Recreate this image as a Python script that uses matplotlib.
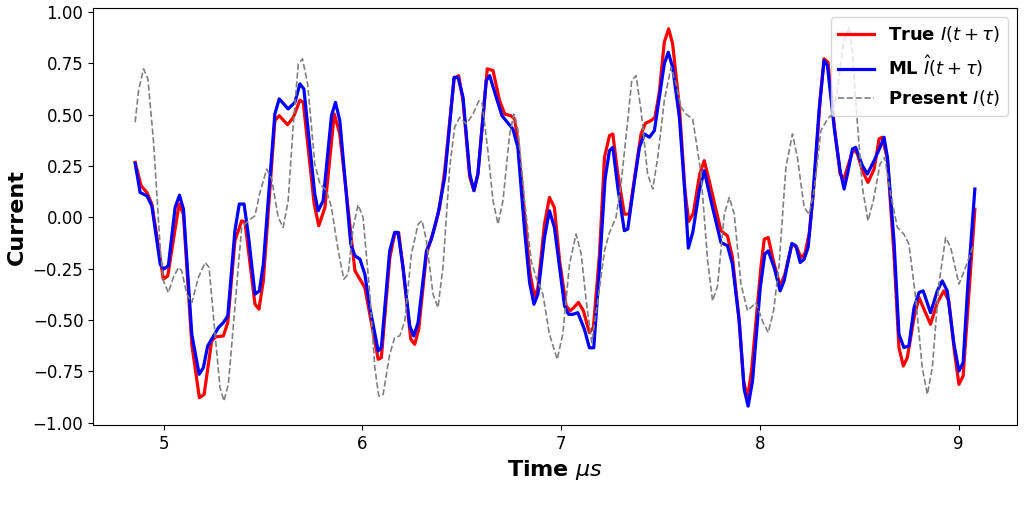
import matplotlib
matplotlib.use("Agg")
import matplotlib.pyplot as plt
import numpy as np

# values (time in us, current)
t_true = [4.856, 4.886, 4.915, 4.940, 4.998, 5.020, 5.077, 5.099, 5.141, 5.179, 5.203, 5.241, 5.261, 5.300,
          5.322, 5.358, 5.392, 5.409, 5.459, 5.479, 5.501, 5.559, 5.581, 5.623, 5.652, 5.685, 5.702, 5.757,
          5.780, 5.811, 5.858, 5.886, 5.962, 5.987, 6.012, 6.079, 6.095, 6.137, 6.162, 6.182, 6.204, 6.243,
          6.263, 6.283, 6.322, 6.363, 6.388, 6.414, 6.461, 6.484, 6.506, 6.540, 6.561, 6.581, 6.628, 6.657,
          6.690, 6.716, 6.746, 6.766, 6.782, 6.816, 6.841, 6.866, 6.883, 6.916, 6.941, 6.966, 6.992, 7.025,
          7.045, 7.064, 7.087, 7.112, 7.142, 7.162, 7.193, 7.218, 7.243, 7.260, 7.285, 7.318, 7.343, 7.377,
          7.402, 7.424, 7.452, 7.472, 7.494, 7.519, 7.541, 7.561, 7.595, 7.623, 7.642, 7.665, 7.697, 7.720,
          7.745, 7.804, 7.837, 7.862, 7.896, 7.918, 7.938, 7.958, 8.005, 8.022, 8.042, 8.072, 8.102, 8.126,
          8.161, 8.186, 8.206, 8.226, 8.248, 8.273, 8.303, 8.323, 8.343, 8.377, 8.404, 8.424, 8.441, 8.471,
          8.491, 8.516, 8.544, 8.575, 8.600, 8.616, 8.642, 8.675, 8.700, 8.722, 8.742, 8.776, 8.801, 8.826,
          8.859, 8.893, 8.926, 8.951, 8.980, 9.002, 9.023, 9.052, 9.082]
i_true = [0.268, 0.154, 0.121, 0.065, -0.301, -0.285, 0.065, 0.016, -0.618, -0.878, -0.862, -0.602, -0.582,
          -0.577, -0.512, -0.114, -0.017, -0.025, -0.423, -0.447, -0.309, 0.471, 0.495, 0.451, 0.487, 0.571,
          0.560, 0.065, -0.041, 0.048, 0.503, 0.406, -0.260, -0.301, -0.342, -0.691, -0.683, -0.200, -0.080,
          -0.074, -0.244, -0.593, -0.618, -0.545, -0.179, -0.049, 0.048, 0.227, 0.674, 0.690, 0.568, 0.195,
          0.130, 0.211, 0.723, 0.715, 0.568, 0.503, 0.495, 0.479, 0.373, 0.016, -0.260, -0.390, -0.342,
          -0.033, 0.097, 0.048, -0.211, -0.431, -0.455, -0.439, -0.414, -0.455, -0.561, -0.537, -0.179,
          0.292, 0.398, 0.406, 0.211, 0.016, 0.016, 0.243, 0.406, 0.458, 0.471, 0.487, 0.609, 0.853, 0.918,
          0.845, 0.536, 0.130, -0.020, 0.020, 0.210, 0.276, 0.178, -0.065, -0.090, -0.195, -0.504, -0.797,
          -0.878, -0.748, -0.244, -0.106, -0.098, -0.228, -0.334, -0.277, -0.130, -0.146, -0.195, -0.179,
          -0.081, 0.162, 0.569, 0.772, 0.755, 0.422, 0.211, 0.187, 0.244, 0.333, 0.309, 0.227, 0.170, 0.235,
          0.382, 0.390, 0.284, -0.179, -0.634, -0.724, -0.683, -0.488, -0.390, -0.447, -0.520, -0.415,
          -0.358, -0.407, -0.659, -0.813, -0.772, -0.374, 0.040]

t_ml = [4.856, 4.881, 4.915, 4.940, 4.982, 4.998, 5.023, 5.057, 5.079, 5.099, 5.141, 5.178, 5.199, 5.221,
        5.275, 5.300, 5.322, 5.358, 5.380, 5.404, 5.425, 5.459, 5.481, 5.501, 5.559, 5.581, 5.626, 5.660,
        5.685, 5.705, 5.760, 5.777, 5.802, 5.844, 5.864, 5.886, 5.941, 5.962, 5.987, 6.012, 6.037, 6.079,
        6.095, 6.137, 6.162, 6.179, 6.204, 6.238, 6.258, 6.280, 6.322, 6.347, 6.380, 6.414, 6.461, 6.481,
        6.506, 6.540, 6.561, 6.581, 6.623, 6.640, 6.673, 6.702, 6.729, 6.757, 6.782, 6.816, 6.841, 6.863,
        6.883, 6.916, 6.941, 6.966, 6.992, 7.017, 7.037, 7.059, 7.084, 7.117, 7.142, 7.164, 7.193, 7.221,
        7.243, 7.260, 7.285, 7.318, 7.335, 7.369, 7.394, 7.419, 7.444, 7.469, 7.494, 7.519, 7.539, 7.561,
        7.595, 7.623, 7.640, 7.663, 7.695, 7.720, 7.754, 7.804, 7.837, 7.862, 7.896, 7.921, 7.941, 7.963,
        8.002, 8.025, 8.042, 8.072, 8.102, 8.122, 8.161, 8.181, 8.203, 8.223, 8.243, 8.265, 8.298, 8.323,
        8.340, 8.374, 8.404, 8.424, 8.441, 8.466, 8.482, 8.516, 8.541, 8.575, 8.605, 8.625, 8.642, 8.675,
        8.700, 8.725, 8.750, 8.776, 8.801, 8.822, 8.859, 8.893, 8.918, 8.943, 8.977, 9.002, 9.023, 9.047,
        9.082]
i_ml = [0.263, 0.121, 0.105, 0.056, -0.228, -0.252, -0.236, 0.048, 0.108, 0.040, -0.569, -0.764, -0.732,
        -0.626, -0.537, -0.512, -0.480, -0.065, 0.065, 0.065, -0.081, -0.374, -0.358, -0.228, 0.503, 0.577,
        0.528, 0.560, 0.650, 0.625, 0.113, 0.032, 0.081, 0.495, 0.560, 0.471, -0.130, -0.187, -0.203,
        -0.277, -0.439, -0.650, -0.634, -0.163, -0.073, -0.073, -0.244, -0.529, -0.577, -0.512, -0.163,
        -0.106, 0.016, 0.195, 0.682, 0.682, 0.585, 0.211, 0.130, 0.211, 0.666, 0.690, 0.585, 0.495, 0.463,
        0.430, 0.341, -0.065, -0.317, -0.423, -0.374, -0.098, 0.032, -0.049, -0.244, -0.431, -0.472,
        -0.472, -0.464, -0.545, -0.635, -0.635, -0.244, 0.187, 0.325, 0.341, 0.146, -0.065, -0.057, 0.178,
        0.341, 0.406, 0.390, 0.422, 0.585, 0.747, 0.804, 0.731, 0.487, 0.113, -0.150, -0.070, 0.130, 0.227,
        0.081, -0.122, -0.138, -0.228, -0.504, -0.837, -0.919, -0.797, -0.342, -0.179, -0.163, -0.244,
        -0.358, -0.309, -0.127, -0.138, -0.220, -0.203, -0.146, 0.081, 0.520, 0.764, 0.739, 0.438, 0.227,
        0.138, 0.211, 0.333, 0.341, 0.252, 0.211, 0.276, 0.341, 0.390, 0.292, -0.114, -0.569, -0.634,
        -0.626, -0.439, -0.366, -0.358, -0.464, -0.358, -0.309, -0.358, -0.618, -0.748, -0.707, -0.325,
        0.138]

t_now = [4.856, 4.873, 4.898, 4.920, 4.948, 4.982, 4.998, 5.023, 5.048, 5.074, 5.090, 5.116, 5.141, 5.174,
         5.208, 5.228, 5.258, 5.283, 5.303, 5.325, 5.358, 5.392, 5.425, 5.459, 5.484, 5.518, 5.543, 5.576,
         5.601, 5.626, 5.652, 5.677, 5.698, 5.724, 5.760, 5.786, 5.819, 5.844, 5.878, 5.906, 5.928, 5.953,
         5.978, 6.003, 6.037, 6.062, 6.082, 6.104, 6.137, 6.162, 6.188, 6.213, 6.246, 6.280, 6.300, 6.322,
         6.355, 6.380, 6.405, 6.439, 6.464, 6.489, 6.523, 6.556, 6.586, 6.603, 6.631, 6.657, 6.682, 6.707,
         6.741, 6.762, 6.782, 6.816, 6.849, 6.874, 6.908, 6.941, 6.980, 7.008, 7.042, 7.075, 7.101, 7.126,
         7.154, 7.184, 7.218, 7.243, 7.276, 7.301, 7.335, 7.355, 7.377, 7.402, 7.435, 7.461, 7.486, 7.519,
         7.553, 7.578, 7.603, 7.628, 7.662, 7.703, 7.737, 7.762, 7.787, 7.821, 7.846, 7.871, 7.905, 7.938,
         7.980, 8.013, 8.042, 8.069, 8.097, 8.131, 8.164, 8.189, 8.223, 8.248, 8.273, 8.307, 8.340, 8.365,
         8.390, 8.420, 8.450, 8.465, 8.482, 8.516, 8.544, 8.571, 8.605, 8.628, 8.658, 8.692, 8.725, 8.750,
         8.784, 8.817, 8.843, 8.868, 8.901, 8.935, 8.960, 9.002, 9.035, 9.077]
i_now = [0.463, 0.617, 0.723, 0.674, 0.373, -0.147, -0.309, -0.366, -0.293, -0.244, -0.260, -0.374, -0.415,
         -0.293, -0.220, -0.244, -0.569, -0.829, -0.894, -0.813, -0.439, -0.049, -0.017, 0.008, 0.121,
         0.235, 0.187, 0.000, -0.049, 0.081, 0.455, 0.747, 0.772, 0.650, 0.260, 0.162, 0.130, 0.048,
         -0.163, -0.301, -0.277, -0.049, 0.061, 0.000, -0.374, -0.731, -0.870, -0.862, -0.667, -0.585,
         -0.577, -0.504, -0.179, -0.033, -0.016, -0.114, -0.374, -0.439, -0.244, 0.244, 0.439, 0.487,
         0.455, 0.503, 0.568, 0.552, 0.325, 0.081, -0.033, 0.081, 0.406, 0.503, 0.430, 0.081, -0.211,
         -0.293, -0.374, -0.569, -0.691, -0.569, -0.228, -0.081, -0.179, -0.407, -0.610, -0.407, -0.163,
         -0.074, 0.000, 0.162, 0.471, 0.666, 0.690, 0.520, 0.211, 0.138, 0.292, 0.568, 0.731, 0.650, 0.536,
         0.503, 0.479, 0.220, -0.211, -0.407, -0.334, 0.016, 0.097, 0.016, -0.325, -0.455, -0.415, -0.504,
         -0.561, -0.455, -0.228, 0.244, 0.406, 0.292, 0.048, 0.016, 0.130, 0.422, 0.479, 0.503, 0.617,
         0.850, 0.926, 0.820, 0.568, 0.146, -0.017, 0.081, 0.260, 0.292, 0.113, -0.049, -0.082, -0.130,
         -0.390, -0.731, -0.862, -0.731, -0.325, -0.098, -0.146, -0.325, -0.244, -0.130]

fig = plt.figure(figsize=(10.24, 5.14), dpi=100)
ax = fig.add_axes([0.091, 0.173, 0.902, 0.811])

ax.plot(t_true, i_true, color='red', lw=2.3, label=r'True $I(t+\tau)$')
ax.plot(t_ml, i_ml, color='blue', lw=2.3, label=r'ML $\hat{I}(t+\tau)$')
ax.plot(t_now, i_now, color='gray', lw=1.2, ls='--', label=r'Present $I(t)$')

ax.set_xlabel(r'Time $\mu s$', fontsize=16, fontweight='bold')
ax.set_ylabel('Current', fontsize=16, fontweight='bold')
ax.tick_params(labelsize=12)
ax.set_yticks(np.arange(-1.0, 1.01, 0.25))
ax.legend(loc='upper right', prop={'weight': 'bold', 'size': 13})

fig.savefig('out.png', dpi=100)
